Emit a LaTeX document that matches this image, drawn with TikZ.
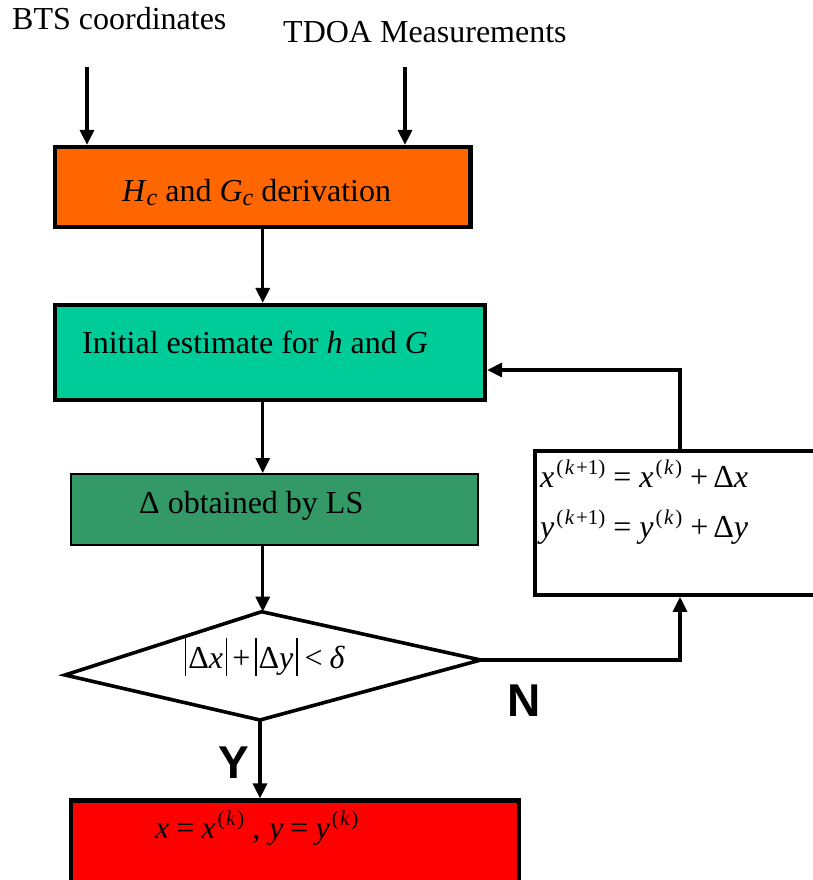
\documentclass[tikz,border=0pt]{standalone}
\usepackage{fontspec}
\setmainfont{Liberation Serif}
\newfontfamily\labelsans{Liberation Sans}
\usetikzlibrary{arrows.meta}
\definecolor{boxorange}{RGB}{255,102,0}
\definecolor{boxteal}{RGB}{0,204,153}
\definecolor{boxgreen}{RGB}{51,153,102}
\definecolor{boxred}{RGB}{255,0,0}
% italic variable, raised index, lowered index, tall absolute-value bar
\newcommand{\vi}[1]{\textit{#1}}
\newcommand{\supx}[1]{\hspace{2pt}\raisebox{13pt}{\fontsize{21}{21}\selectfont #1}}
\newcommand{\subx}[1]{\raisebox{-4pt}{\fontsize{24}{24}\selectfont #1}}
\newcommand{\absbar}{\rule[-8pt]{1.2pt}{38pt}}
\newcommand{\kk}{\hspace{1.5pt}\vi{k}\hspace{1.5pt}}
\begin{document}
\begin{tikzpicture}[x=1pt,y=-1pt,
  box/.style={draw=black, line width=4.2pt, inner sep=0pt},
  flow/.style={line width=3.2pt, -{Triangle[width=14pt,length=15pt]}},
  txt/.style={inner sep=0pt, anchor=base west, font=\fontsize{32}{38}\selectfont},
  yn/.style={inner sep=0pt, anchor=base west, font=\labelsans\bfseries\fontsize{46}{46}\selectfont}]
\path[use as bounding box, clip] (0,0) rectangle (813,880);

% process boxes
\node[box, fill=boxorange, minimum width=415.5pt, minimum height=80pt] (deriv) at (262.75,187) {};
\node[box, fill=boxteal, minimum width=430pt, minimum height=95pt] (init) at (270,352.5) {};
\node[box, fill=boxgreen, line width=2pt, minimum width=407pt, minimum height=71pt] (ls) at (274.5,509.5) {};
\node[box, fill=white, minimum width=290pt, minimum height=143.4pt] (upd) at (680,523) {};
\node[box, fill=boxred, minimum width=447.7pt, minimum height=120pt] (res) at (294.85,860.5) {};

% decision diamond
\coordinate (dT) at (261.7,611.7);
\coordinate (dR) at (480.7,660);
\coordinate (dB) at (260,720);
\coordinate (dL) at (65,675);
\draw[line width=3.6pt, line join=miter] (dL) -- (dT) -- (dR) -- (dB) -- cycle;

% inputs
\coordinate (inA) at (87,67);
\coordinate (inB) at (405,67);
\draw[flow] (inA) -- (inA |- deriv.north);
\draw[flow] (inB) -- (inB |- deriv.north);

% main chain
\draw[flow] (deriv.south) -- (deriv.south |- init.north);
\draw[flow] (deriv.south |- init.south) -- (deriv.south |- ls.north);
\draw[flow] (deriv.south |- ls.south) -- (deriv.south |- dT);
\draw[flow] (dB) -- (dB |- res.north);

% iteration loop
\draw[flow] (dR) -| (upd.south);
\draw[flow] (upd.north) |- ([yshift=-17.5pt]init.east);

% texts
\node[txt] (tBTS) at (12,30) {BTS coordinates};
\node[txt] (tTDOA) at (283,43) {TDOA Measurements};
\node[txt] (tDeriv) at (122,201) {\vi{H}\subx{\vi{c}} and \vi{G}\subx{\vi{c}} derivation};
\node[txt] (tInit) at (82,353) {Initial estimate for \vi{h} and \vi{G}};
\node[txt] (tLS) at (139,513) {Δ obtained by LS};
\node[txt] (tUx) at (540,487) {\vi{x}\supx{(\kk+1)}\hspace{8pt}=\hspace{8pt}\vi{x}\supx{(\kk)}\hspace{8pt}+\hspace{5pt}Δ\vi{x}};
\node[txt] (tUy) at (540,537) {\vi{y}\supx{(\kk+1)}\hspace{8pt}=\hspace{8pt}\vi{y}\supx{(\kk)}\hspace{8pt}+\hspace{5pt}Δ\vi{y}};
\node[txt] (tCond) at (185,668) {\absbar\hspace{2pt}Δ\vi{x}\hspace{3pt}\absbar\hspace{5pt}+\hspace{5pt}\absbar\hspace{2pt}Δ\vi{y}\hspace{3pt}\absbar\hspace{7pt}<\hspace{7pt}\vi{δ}};
\node[txt] (tRes) at (155,838) {\vi{x}\hspace{7pt}=\hspace{7pt}\vi{x}\supx{(\kk)}\hspace{8pt},\hspace{9pt}\vi{y}\hspace{7pt}=\hspace{7pt}\vi{y}\supx{(\kk)}};
\node[yn] (tN) at (507,716) {N};
\node[yn] (tY) at (218,778) {Y};
\end{tikzpicture}
\end{document}
